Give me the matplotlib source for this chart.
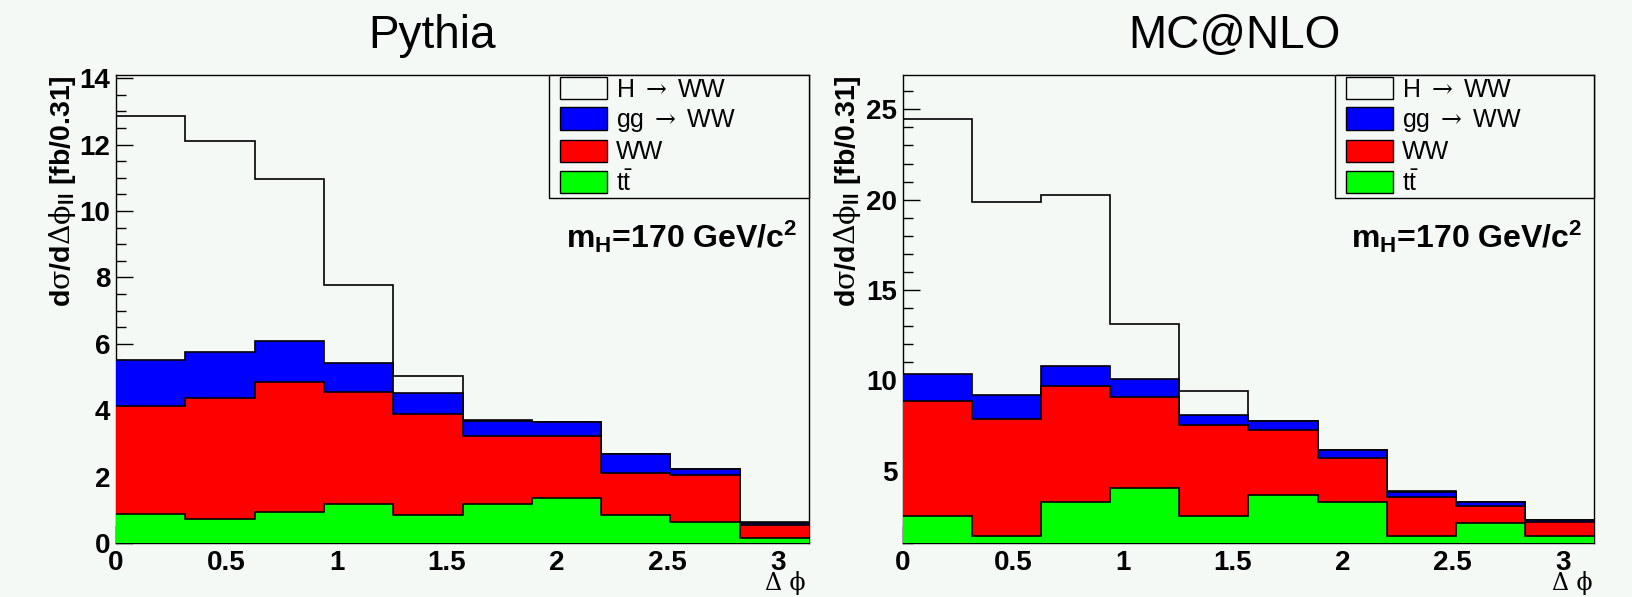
import numpy as np
import matplotlib.pyplot as plt
from matplotlib.patches import Patch
from matplotlib.legend_handler import HandlerPatch
from matplotlib.ticker import MultipleLocator

plt.rcParams['font.family'] = ['Liberation Sans', 'DejaVu Sans']
plt.rcParams['mathtext.fontset'] = 'custom'
plt.rcParams['mathtext.rm'] = 'DejaVu Serif'
plt.rcParams['mathtext.sf'] = 'Liberation Sans'
plt.rcParams['mathtext.bf'] = 'Liberation Sans:bold'
plt.rcParams['mathtext.it'] = 'Liberation Sans:italic'

bg = '#f5f9f6'

# 10 bins in delta phi between the two leptons, 0..pi
edges = np.linspace(0, np.pi, 11)

# Pythia, contribution of each process per bin [fb/0.31]
pythia_tt = [0.88, 0.71, 0.92, 1.17, 0.84, 1.17, 1.34, 0.84, 0.64, 0.14]
pythia_ww = [3.26, 3.67, 3.92, 3.38, 3.06, 2.05, 1.88, 1.28, 1.40, 0.40]
pythia_gg = [1.38, 1.38, 1.25, 0.88, 0.62, 0.45, 0.41, 0.55, 0.19, 0.06]
pythia_h = [7.34, 6.34, 4.88, 2.34, 0.51, 0.02, 0.02, 0.01, 0.01, 0.02]

# MC@NLO
mcnlo_tt = [2.49, 1.41, 3.26, 4.02, 2.49, 3.64, 3.26, 1.41, 2.11, 1.41]
mcnlo_ww = [6.39, 6.46, 6.43, 5.08, 5.06, 3.63, 2.46, 2.12, 0.94, 0.75]
mcnlo_gg = [1.45, 1.33, 1.08, 1.00, 0.53, 0.47, 0.41, 0.30, 0.19, 0.10]
mcnlo_h = [14.14, 10.68, 9.49, 3.03, 1.31, 0.02, 0.02, 0.02, 0.02, 0.02]

labels = [r'H $\rightarrow$ WW', r'gg $\rightarrow$ WW', 'WW', r'$\mathsf{t\bar{t}}$']
fills = [None, '#0000ff', '#ff0000', '#00ff00']

xticks = [0, 0.5, 1, 1.5, 2, 2.5, 3]
xticklabels = ['0', '0.5', '1', '1.5', '2', '2.5', '3']


def draw_panel(ax, tt, ww, gg, h, ylim, ymajor, yminor):
    ax.set_facecolor(bg)
    levels = np.cumsum([tt, ww, gg, h], axis=0)[::-1]
    # total first, each lower process painted over it
    for i, (level, color) in enumerate(zip(levels, fills)):
        if color is not None:
            ax.stairs(level, edges, baseline=0, fill=True, color=color,
                      lw=0, zorder=2 + i)
        ax.stairs(level, edges, baseline=None, color='black', lw=1.2,
                  zorder=2.1 + i)

    ax.set_xlim(0, np.pi)
    ax.set_ylim(*ylim)
    ax.set_xticks(xticks)
    ax.set_xticklabels(xticklabels)
    ax.xaxis.set_minor_locator(MultipleLocator(0.1))
    ax.yaxis.set_major_locator(MultipleLocator(ymajor))
    ax.yaxis.set_minor_locator(MultipleLocator(yminor))
    ax.set_axisbelow(True)
    for sp in ax.spines.values():
        sp.set_zorder(0.5)
        sp.set_linewidth(1.0)
    ax.tick_params(which='both', direction='in', top=False, right=False,
                   width=1.0, labelsize=20)
    ax.tick_params(which='major', length=12)
    ax.tick_params(which='minor', length=7)
    ax.tick_params(axis='y', pad=4)
    ax.tick_params(axis='x', pad=5)
    for lbl in ax.get_xticklabels() + ax.get_yticklabels():
        lbl.set_fontweight('bold')

    handles = [Patch(facecolor=c if c else bg, edgecolor='black', lw=1.0)
               for c in fills]
    leg = ax.legend(handles, labels, loc='upper left',
                    bbox_to_anchor=(0.625, 0.739, 0.375, 0.261), mode='expand',
                    borderaxespad=0, fontsize=18, fancybox=False,
                    edgecolor='black', facecolor=bg, framealpha=1,
                    handlelength=2.25, handleheight=1.0, handletextpad=0.35,
                    labelspacing=0.22, borderpad=0.08,
                    handler_map={Patch: HandlerPatch(xpad=0.35)})
    leg.get_frame().set_linewidth(1.0)

    ax.text(0.983, 0.630, r'$\mathbf{m_{H}}$=170 GeV/c$^{\mathbf{2}}$',
            transform=ax.transAxes, ha='right', va='baseline', fontsize=23,
            fontweight='bold')


fig = plt.figure(figsize=(16.32, 5.97), dpi=100, facecolor=bg)
ax1 = fig.add_axes([0.0711, 0.0905, 0.4246, 0.7839])
ax2 = fig.add_axes([0.5533, 0.0905, 0.4234, 0.7839])

draw_panel(ax1, pythia_tt, pythia_ww, pythia_gg, pythia_h, (0, 14.1), 2, 0.5)
draw_panel(ax2, mcnlo_tt, mcnlo_ww, mcnlo_gg, mcnlo_h, (1.0, 26.9), 5, 1)

ylabel = r'$\mathbf{d}\mathrm{\sigma}\mathbf{/d}\mathrm{\Delta\phi}_{\mathbf{ll}}\ \mathbf{[fb/0.31]}$'
for x in (0.0383, 0.5193):
    fig.text(x, 0.8744, ylabel, rotation=90, ha='center', va='top', fontsize=20.5)

fig.text(0.2647, 0.9196, 'Pythia', ha='center', va='baseline', fontsize=33)
fig.text(0.7567, 0.9196, 'MC@NLO', ha='center', va='baseline', fontsize=33)

for x in (0.4935, 0.9755):
    fig.text(x, 0.004, 'Δ ϕ', family=['DejaVu Serif'], fontsize=17,
             ha='right', va='bottom')

fig.savefig('out.png', dpi=100, facecolor=bg)
